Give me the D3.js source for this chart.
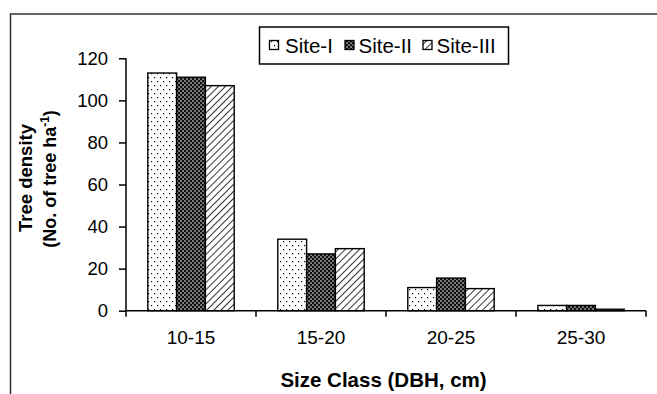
<!DOCTYPE html>
<html><head><meta charset="utf-8">
<script src="https://cdn.jsdelivr.net/npm/d3@7"></script>
<style>body{margin:0;background:#fff}svg{display:block}text{font-family:"Liberation Sans",Arial,sans-serif;fill:#000}</style>
</head><body><svg id="c" width="657" height="394"></svg>
<script>
const categories = ["10-15","15-20","20-25","25-30"];
const seriesNames = ["Site-I","Site-II","Site-III"];
const siteI = [113, 34, 11, 2.5];
const siteII = [111, 27, 15.5, 2.5];
const siteIII = [107, 29.5, 10.5, 0.7];
const yTicks = [0,20,40,60,80,100,120];
const xTitle = "Size Class (DBH, cm)";
const yTitle1 = "Tree density";
const yTitle2 = "(No. of tree ha";

const seriesValues = [siteI, siteII, siteIII];
const svg = d3.select("#c");
const defs = svg.append("defs");

// Patterns
const p1 = defs.append("pattern").attr("id","pat0").attr("patternUnits","userSpaceOnUse").attr("width",6).attr("height",8);
p1.append("rect").attr("width",6).attr("height",8).attr("fill","#fff");
p1.append("rect").attr("x",1).attr("y",1).attr("width",1.2).attr("height",1.2).attr("fill","#000");
p1.append("rect").attr("x",4).attr("y",5).attr("width",1.2).attr("height",1.2).attr("fill","#000");

const p2 = defs.append("pattern").attr("id","pat1").attr("patternUnits","userSpaceOnUse").attr("width",4).attr("height",4);
p2.append("rect").attr("width",4).attr("height",4).attr("fill","#111");
p2.append("rect").attr("x",0.4).attr("y",0.4).attr("width",1.3).attr("height",1.3).attr("fill","#fff");
p2.append("rect").attr("x",2.4).attr("y",2.4).attr("width",1.3).attr("height",1.3).attr("fill","#fff");

const p3 = defs.append("pattern").attr("id","pat2").attr("patternUnits","userSpaceOnUse").attr("width",5).attr("height",5).attr("patternTransform","rotate(45)");
p3.append("rect").attr("width",5).attr("height",5).attr("fill","#fff");
p3.append("line").attr("x1",0).attr("y1",0).attr("x2",0).attr("y2",5).attr("stroke","#000").attr("stroke-width",1.6);

// Outer frame
svg.append("rect").attr("x",10.5).attr("y",14).attr("width",700).attr("height",500)
  .attr("fill","none").attr("stroke","#333").attr("stroke-width",1.5);

const x0 = d3.scaleBand().domain(categories).range([126,646]).padding(0);
const x1 = d3.scaleBand().domain(seriesNames).range([0,x0.bandwidth()]).paddingInner(0).paddingOuter(0.757);
const y = d3.scaleLinear().domain([0,120]).range([310.7,58.3]);

// Bars
categories.forEach((c,ci)=>{
  seriesNames.forEach((s,si)=>{
    const v = seriesValues[si][ci];
    svg.append("rect")
      .attr("x", x0(c)+x1(s))
      .attr("y", y(v))
      .attr("width", x1.bandwidth())
      .attr("height", y(0)-y(v))
      .attr("fill", `url(#pat${si})`)
      .attr("stroke","#000").attr("stroke-width",1.4);
  });
});

// Y axis
const yAxis = svg.append("g").attr("transform","translate(126,0)")
  .call(d3.axisLeft(y).tickValues(yTicks).tickSize(7).tickPadding(11).tickFormat(d3.format("d")));
yAxis.selectAll("path,line").attr("stroke","#000").attr("stroke-width",1.5);
yAxis.select(".domain").attr("d","M0,58.3V310.7");
yAxis.selectAll("text").attr("font-size","18.5px").style("font-family",'"Liberation Sans",Arial,sans-serif');

// X axis
const xAxis = svg.append("g").attr("transform","translate(0,310.7)")
  .call(d3.axisBottom(x0).tickSize(0).tickPadding(30));
xAxis.select(".domain").attr("d","M126,0H646").attr("stroke","#000").attr("stroke-width",1.5);
xAxis.selectAll("text").attr("font-size","19px").attr("dy","0.2em").style("font-family",'"Liberation Sans",Arial,sans-serif');
const bounds = categories.map(c=>x0(c)).concat([x0(categories[categories.length-1])+x0.bandwidth()]);
xAxis.selectAll("line.sep").data(bounds).enter().append("line").attr("class","sep")
  .attr("x1",d=>d).attr("x2",d=>d).attr("y1",0).attr("y2",6).attr("stroke","#000").attr("stroke-width",1.5);

// Titles
svg.append("text").attr("x",383.5).attr("y",386.5).attr("text-anchor","middle")
  .attr("font-size","20.5px").attr("font-weight","bold").text(xTitle);
svg.append("text").attr("transform","translate(31.5,178) rotate(-90)").attr("text-anchor","middle")
  .attr("font-size","18.5px").attr("font-weight","bold").text(yTitle1);
const t2 = svg.append("text").attr("transform","translate(56,179) rotate(-90)").attr("text-anchor","middle")
  .attr("font-size","18px").attr("font-weight","bold");
t2.append("tspan").text(yTitle2);
t2.append("tspan").attr("font-size","12px").attr("dy","-7").text("-1");
t2.append("tspan").attr("dy","7").text(")");

// Legend
const lg = svg.append("g");
lg.append("rect").attr("x",259.5).attr("y",27).attr("width",249).attr("height",37)
  .attr("fill","#fff").attr("stroke","#000").attr("stroke-width",1.5);
const legX = [269.5, 345, 423];
const legTX = [285, 358.5, 436.5];
seriesNames.forEach((s,i)=>{
  lg.append("rect").attr("x",legX[i]).attr("y",40.5).attr("width",9).attr("height",9)
    .attr("fill",`url(#pat${i})`).attr("stroke","#000").attr("stroke-width",1.3);
  lg.append("text").attr("x",legTX[i]).attr("y",52.5).attr("font-size","20.5px").text(s);
});
</script></body></html>
